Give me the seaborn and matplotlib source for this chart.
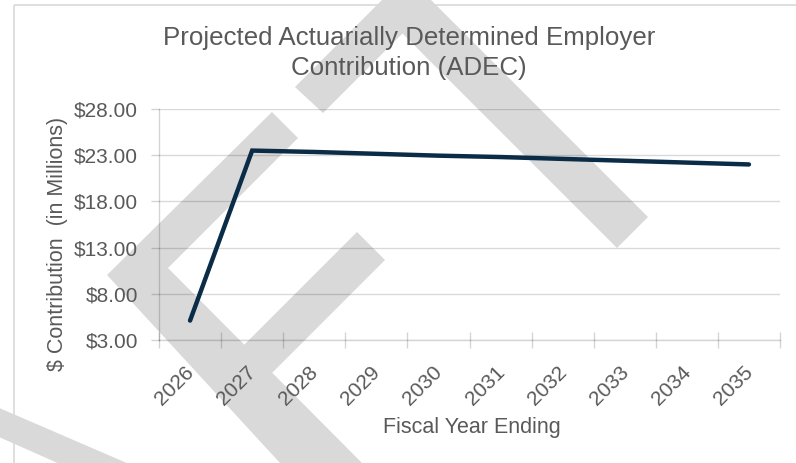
import matplotlib
matplotlib.use("Agg")
import matplotlib.pyplot as plt
import matplotlib.transforms as mtransforms
from matplotlib.patches import Polygon, Rectangle
import numpy as np
import pandas as pd
import seaborn as sns

# Fiscal years and projected ADEC ($ millions)
years = ["2026", "2027", "2028", "2029", "2030", "2031", "2032", "2033", "2034", "2035"]
adec = [5.1, 23.5, 23.35, 23.15, 22.95, 22.8, 22.6, 22.4, 22.2, 22.0]
y_ticks = [3.0, 8.0, 13.0, 18.0, 23.0, 28.0]

title = "Projected Actuarially Determined Employer\nContribution (ADEC)"
x_label = "Fiscal Year Ending"
y_label = "$ Contribution  (in Millions)"

sns.set_theme(style="white")
plt.rcParams["font.family"] = ["Liberation Sans", "DejaVu Sans"]

W, H = 796, 463
fig = plt.figure(figsize=(W / 100, H / 100), dpi=100)
fig.patch.set_facecolor("white")

# pixel coordinates (origin top-left) for figure decorations
px = mtransforms.Affine2D().scale(1 / W, -1 / H).translate(0, 1) + fig.transFigure

# chart frame
fig.add_artist(Rectangle((14, 5), 900, 600, transform=px, fill=False,
                         edgecolor="#d9d9d9", lw=1.2, zorder=-2))

# watermark strokes
wm = "#d9d9d9"
shapes = [
    [(406.5, -24.5), (295, 87), (323, 113), (402.5, 33.5), (617, 248), (648, 217)],
    [(272, 112), (107, 275), (280, 463), (290, 475), (374, 475), (362, 463), (168, 268), (298, 138)],
    [(357, 232), (385, 260), (260, 385), (232, 357)],
    [(-10, 404), (150, 473), (80, 473), (-10, 433)],
]
for pts in shapes:
    fig.add_artist(Polygon(pts, closed=True, transform=px, facecolor=wm,
                           edgecolor="none", zorder=-1))

left, right, top, bottom = 159, 780, 109, 340
ax = fig.add_axes([left / W, 1 - bottom / H, (right - left) / W, (bottom - top) / H])
ax.set_facecolor("none")

df = pd.DataFrame({"year": years, "adec": adec})
sns.lineplot(data=df, x="year", y="adec", ax=ax, color="#0b2c47", lw=3.2,
             sort=False, solid_capstyle="round", solid_joinstyle="miter", zorder=3)

ax.set_xlim(-0.5, len(years) - 0.5)
ax.set_ylim(y_ticks[0], y_ticks[-1])
ax.set_yticks(y_ticks)
ax.set_yticklabels([f"${v:.2f}" for v in y_ticks])
ax.set_xticks(range(len(years)))
ax.set_xticklabels(years)
ax.set_xticks(np.arange(-0.5, len(years)), minor=True)
ax.set_xlabel("")
ax.set_ylabel("")

ax.grid(axis="y", color="black", alpha=0.15, lw=1.0)
ax.grid(axis="x", visible=False)
for s in ["top", "right"]:
    ax.spines[s].set_visible(False)
for s in ["left", "bottom"]:
    ax.spines[s].set_color((0, 0, 0, 0.17))
    ax.spines[s].set_linewidth(1.0)

text_c = "#595959"
tick_c = (0, 0, 0, 0.17)
ax.tick_params(axis="y", which="major", length=6, width=1.0, color=tick_c,
               direction="out", pad=9, labelsize=15, labelcolor=text_c, left=True)
ax.tick_params(axis="x", which="major", length=0, pad=21, labelsize=15,
               labelcolor=text_c)
ax.tick_params(axis="x", which="minor", length=11, width=1.0, color=tick_c,
               direction="inout", bottom=True)

shift = mtransforms.ScaledTranslation(1 / 100, 0, fig.dpi_scale_trans)
for lab in ax.get_xticklabels():
    lab.set_rotation(45)
    lab.set_ha("right")
    lab.set_va("center")
    lab.set_rotation_mode("anchor")
    lab.set_transform(lab.get_transform() + shift)

fig.text(409 / W, 1 - 53 / H, title, ha="center", va="center", fontsize=18.6,
         color=text_c, linespacing=1.28)
fig.text(57 / W, 1 - 244 / H, y_label, ha="center", va="center", rotation=90,
         fontsize=15.5, color=text_c)
fig.text(472 / W, 1 - 428 / H, x_label, ha="center", va="center", fontsize=15.5,
         color=text_c)

fig.savefig("out.png", dpi=100, facecolor="white")
